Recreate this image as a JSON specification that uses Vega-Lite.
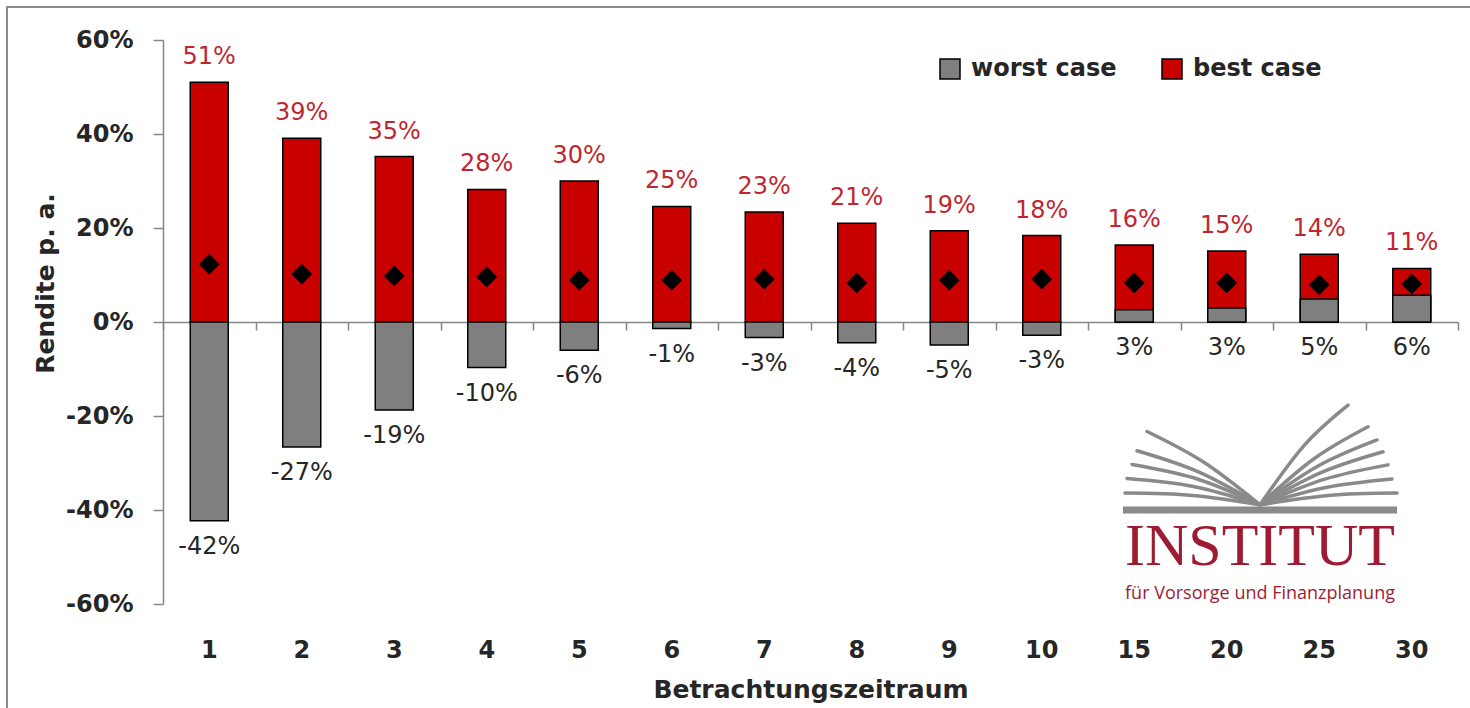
{
  "$schema": "https://vega.github.io/schema/vega-lite/v6.json",
  "width": 1295,
  "height": 564,
  "autosize": {"type": "none"},
  "padding": {"left": 163, "top": 40, "right": 12, "bottom": 104},
  "background": "white",
  "config": {"view": {"stroke": null}, "font": "DejaVu Sans"},
  "layer": [
    {
      "data": {
        "values": [
          {"period": "1", "best": 51, "worst": -42.3, "avg": 12.3},
          {"period": "2", "best": 39.1, "worst": -26.6, "avg": 10.2},
          {"period": "3", "best": 35.2, "worst": -18.7, "avg": 9.8},
          {"period": "4", "best": 28.2, "worst": -9.7, "avg": 9.6},
          {"period": "5", "best": 30, "worst": -6, "avg": 8.9},
          {"period": "6", "best": 24.6, "worst": -1.4, "avg": 8.9},
          {"period": "7", "best": 23.4, "worst": -3.3, "avg": 9.1},
          {"period": "8", "best": 21, "worst": -4.4, "avg": 8.3},
          {"period": "9", "best": 19.4, "worst": -4.9, "avg": 8.9},
          {"period": "10", "best": 18.4, "worst": -2.8, "avg": 9.1},
          {"period": "15", "best": 16.4, "worst": 2.6, "avg": 8.3},
          {"period": "20", "best": 15.1, "worst": 3, "avg": 8.3},
          {"period": "25", "best": 14.4, "worst": 4.9, "avg": 7.9},
          {"period": "30", "best": 11.4, "worst": 5.7, "avg": 8.1}
        ]
      },
      "layer": [
        {
          "transform": [{"fold": ["best", "worst"], "as": ["series", "value"]}],
          "mark": {"type": "bar", "width": 38, "stroke": "black", "strokeWidth": 1.5},
          "encoding": {
            "x": {
              "field": "period", "type": "ordinal", "sort": null,
              "scale": {"paddingInner": 0, "paddingOuter": 0},
              "axis": {
                "title": "Betrachtungszeitraum", "labelAngle": 0, "domain": false, "ticks": false, "tickSize": 0,
                "labelPadding": 46, "labelBaseline": "middle", "labelFont": "DejaVu Sans", "labelFontWeight": "bold",
                "labelFontSize": 24, "labelColor": "#262626",
                "titleFont": "DejaVu Sans", "titleFontWeight": "bold", "titleFontSize": 25, "titleColor": "#262626",
                "titlePadding": 15
              }
            },
            "y": {
              "field": "value", "type": "quantitative", "stack": null,
              "scale": {"domain": [-60, 60], "nice": false},
              "axis": {
                "values": [-60, -40, -20, 0, 20, 40, 60], "labelExpr": "datum.value + '%'",
                "grid": false, "domainColor": "#868686", "domainWidth": 1.5, "tickColor": "#868686", "tickWidth": 1.5,
                "tickSize": 10, "labelPadding": 20, "labelFont": "DejaVu Sans", "labelFontWeight": "bold",
                "labelFontSize": 24, "labelColor": "#262626",
                "title": "Rendite p. a.", "titleFont": "DejaVu Sans", "titleFontWeight": "bold", "titleFontSize": 25,
                "titleColor": "#262626", "titleX": -118, "titleY": 243, "titleAlign": "center", "titleBaseline": "middle"
              }
            },
            "color": {
              "field": "series", "type": "nominal",
              "scale": {"domain": ["worst", "best"], "range": ["#7f7f7f", "#c80000"]},
              "legend": {
                "title": null, "orient": "none", "direction": "horizontal", "legendX": 775, "legendY": 17,
                "labelExpr": "datum.label + ' case'", "symbolType": "square", "symbolSize": 400,
                "symbolStrokeColor": "black", "symbolStrokeWidth": 1.5, "labelFont": "DejaVu Sans",
                "labelFontWeight": "bold", "labelFontSize": 24, "labelColor": "#262626", "labelOffset": 9,
                "columnPadding": 42, "labelLimit": 300
              }
            }
          }
        },
        {
          "mark": {"type": "point", "shape": "diamond", "filled": true, "size": 430, "color": "black", "opacity": 1},
          "encoding": {
            "x": {
              "field": "period", "type": "ordinal", "sort": null,
              "axis": {
                "orient": "bottom", "offset": -282, "labels": false, "title": null, "domain": true,
                "domainColor": "#868686", "domainWidth": 1.5, "ticks": true, "tickBand": "extent",
                "tickColor": "#868686", "tickWidth": 1.5, "tickSize": 8
              }
            },
            "y": {"field": "avg", "type": "quantitative", "scale": {"domain": [-60, 60], "nice": false}}
          }
        },
        {
          "transform": [{"calculate": "round(datum.best) + '%'", "as": "bestLabel"}],
          "mark": {"type": "text", "dy": -25, "baseline": "middle", "align": "center", "font": "DejaVu Sans", "fontSize": 24, "color": "#c0262f"},
          "encoding": {
            "x": {"field": "period", "type": "ordinal", "sort": null, "axis": null},
            "y": {"field": "best", "type": "quantitative", "scale": {"domain": [-60, 60], "nice": false}},
            "text": {"field": "bestLabel"}
          }
        },
        {
          "transform": [
            {"calculate": "round(datum.worst) + '%'", "as": "worstLabel"},
            {"calculate": "min(datum.worst, 0)", "as": "worstPos"}
          ],
          "mark": {"type": "text", "dy": 26, "baseline": "middle", "align": "center", "font": "DejaVu Sans", "fontSize": 24, "color": "#262626"},
          "encoding": {
            "x": {"field": "period", "type": "ordinal", "sort": null, "axis": null},
            "y": {"field": "worstPos", "type": "quantitative", "scale": {"domain": [-60, 60], "nice": false}},
            "text": {"field": "worstLabel"}
          }
        }
      ],
      "resolve": {"axis": {"x": "independent"}}
    },
    {
      "layer": [
        {
          "data": {"values": [{"lx": -1116, "lx2": 1200, "ly": 67.0, "ly2": -200}]},
          "mark": {"type": "rect", "fill": null, "stroke": "#8c8c8c", "strokeWidth": 2},
          "encoding": {
            "x": {"field": "lx", "type": "quantitative", "scale": {"domain": [-960, 335], "nice": false, "zero": false}, "axis": null},
            "x2": {"field": "lx2"},
            "y": {"field": "ly", "type": "quantitative", "scale": {"domain": [-60, 60], "nice": false}, "axis": null},
            "y2": {"field": "ly2"}
          }
        },
        {
          "data": {
            "values": [
              {"id": "L1", "o": 1, "lx": 24, "ly": -23.3}, {"id": "L1", "o": 2, "lx": 80.5, "ly": -29.8}, {"id": "L1", "o": 3, "lx": 137, "ly": -38.9},
              {"id": "L2", "o": 1, "lx": 14, "ly": -27.4}, {"id": "L2", "o": 2, "lx": 75.5, "ly": -31.9}, {"id": "L2", "o": 3, "lx": 137, "ly": -38.9},
              {"id": "L3", "o": 1, "lx": 9, "ly": -30.3}, {"id": "L3", "o": 2, "lx": 73, "ly": -33.3}, {"id": "L3", "o": 3, "lx": 137, "ly": -38.9},
              {"id": "L4", "o": 1, "lx": 4, "ly": -33.3}, {"id": "L4", "o": 2, "lx": 70.5, "ly": -35.0}, {"id": "L4", "o": 3, "lx": 137, "ly": -38.9},
              {"id": "L5", "o": 1, "lx": 2, "ly": -36.4}, {"id": "L5", "o": 2, "lx": 69.5, "ly": -36.9}, {"id": "L5", "o": 3, "lx": 137, "ly": -38.9},
              {"id": "R1", "o": 1, "lx": 225, "ly": -17.7}, {"id": "R1", "o": 2, "lx": 181, "ly": -26.3}, {"id": "R1", "o": 3, "lx": 137, "ly": -38.9},
              {"id": "R2", "o": 1, "lx": 245, "ly": -22.3}, {"id": "R2", "o": 2, "lx": 191, "ly": -29.1}, {"id": "R2", "o": 3, "lx": 137, "ly": -38.9},
              {"id": "R3", "o": 1, "lx": 254, "ly": -25.1}, {"id": "R3", "o": 2, "lx": 195.5, "ly": -30.6}, {"id": "R3", "o": 3, "lx": 137, "ly": -38.9},
              {"id": "R4", "o": 1, "lx": 260, "ly": -27.6}, {"id": "R4", "o": 2, "lx": 198.5, "ly": -32.0}, {"id": "R4", "o": 3, "lx": 137, "ly": -38.9},
              {"id": "R5", "o": 1, "lx": 265, "ly": -30.4}, {"id": "R5", "o": 2, "lx": 201, "ly": -33.5}, {"id": "R5", "o": 3, "lx": 137, "ly": -38.9},
              {"id": "R6", "o": 1, "lx": 269, "ly": -33.4}, {"id": "R6", "o": 2, "lx": 203, "ly": -35.2}, {"id": "R6", "o": 3, "lx": 137, "ly": -38.9},
              {"id": "R7", "o": 1, "lx": 274, "ly": -36.4}, {"id": "R7", "o": 2, "lx": 205.5, "ly": -36.9}, {"id": "R7", "o": 3, "lx": 137, "ly": -38.9}
            ]
          },
          "mark": {"type": "line", "interpolate": "natural", "stroke": "#8a8a8a", "strokeWidth": 3.5, "strokeCap": "round"},
          "encoding": {
            "x": {"field": "lx", "type": "quantitative", "scale": {"domain": [-960, 335], "nice": false, "zero": false}, "axis": null},
            "y": {"field": "ly", "type": "quantitative", "scale": {"domain": [-60, 60], "nice": false}, "axis": null},
            "detail": {"field": "id"},
            "order": {"field": "o"}
          }
        },
        {
          "data": {"values": [{"lx": 0, "lx2": 274, "ly": -40.0}]},
          "mark": {"type": "rule", "stroke": "#8a8a8a", "strokeWidth": 7},
          "encoding": {
            "x": {"field": "lx", "type": "quantitative", "scale": {"domain": [-960, 335], "nice": false, "zero": false}, "axis": null},
            "x2": {"field": "lx2"},
            "y": {"field": "ly", "type": "quantitative", "scale": {"domain": [-60, 60], "nice": false}, "axis": null}
          }
        },
        {
          "data": {"values": [{"lx": 137, "ly": -51.7, "t": "INSTITUT"}]},
          "mark": {"type": "text", "align": "center", "baseline": "alphabetic", "font": "Liberation Serif", "fontSize": 60, "color": "#9e1c33"},
          "encoding": {
            "x": {"field": "lx", "type": "quantitative", "scale": {"domain": [-960, 335], "nice": false, "zero": false}, "axis": null},
            "y": {"field": "ly", "type": "quantitative", "scale": {"domain": [-60, 60], "nice": false}, "axis": null},
            "text": {"field": "t"}
          }
        },
        {
          "data": {"values": [{"lx": 137, "ly": -58.9, "t": "für Vorsorge und Finanzplanung"}]},
          "mark": {"type": "text", "align": "center", "baseline": "alphabetic", "font": "Open Sans", "fontSize": 18, "color": "#9e1c33"},
          "encoding": {
            "x": {"field": "lx", "type": "quantitative", "scale": {"domain": [-960, 335], "nice": false, "zero": false}, "axis": null},
            "y": {"field": "ly", "type": "quantitative", "scale": {"domain": [-60, 60], "nice": false}, "axis": null},
            "text": {"field": "t"}
          }
        }
      ]
    }
  ],
  "resolve": {"scale": {"x": "independent", "y": "independent"}}
}
